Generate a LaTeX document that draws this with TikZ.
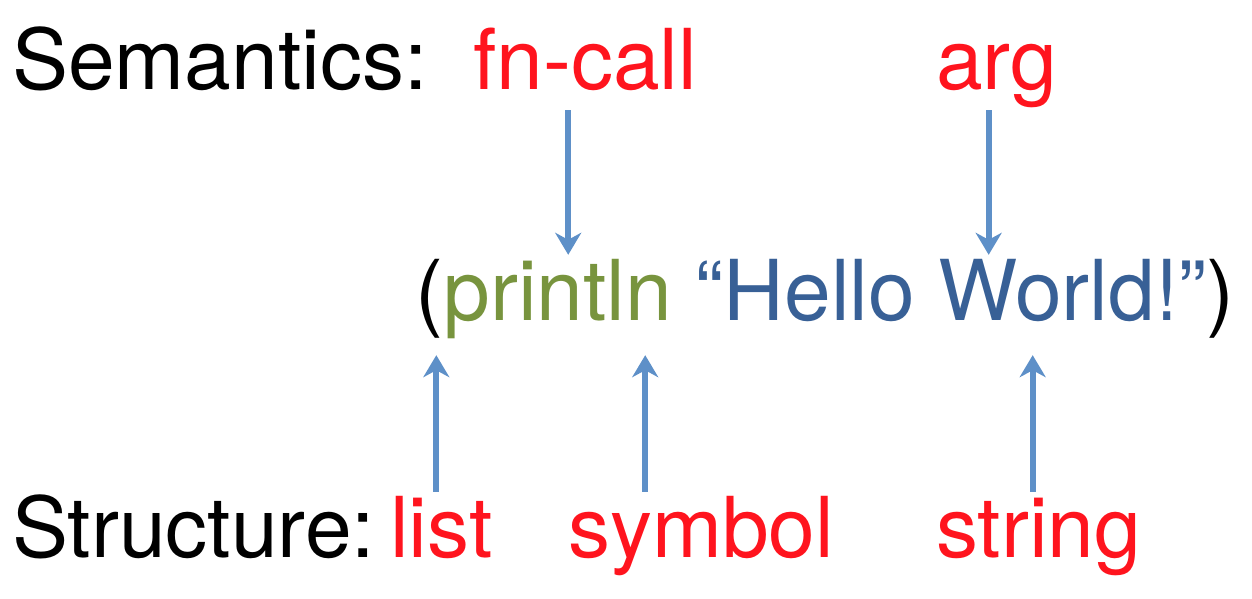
\documentclass[tikz,border=0pt]{standalone}
\usepackage{fontspec}
\setmainfont{TeX Gyre Heros}
\usepackage{xcolor}
\usetikzlibrary{arrows.meta}

\definecolor{semred}{RGB}{255,20,30}
\definecolor{codegreen}{RGB}{120,148,62}
\definecolor{codeblue}{RGB}{56,96,150}
\definecolor{arrowblue}{RGB}{94,144,200}
\newcommand\bigtxt{\fontsize{84}{100}\selectfont}

\begin{document}
\begin{tikzpicture}[x=1pt,y=1pt,
    txt/.style={inner sep=0pt,anchor=base west,font=\bigtxt},
    sem/.style={txt,text depth=20pt},
    code/.style={txt,text height=65pt,text depth=35pt},
    struc/.style={txt,text height=65pt},
    arr/.style={-{Stealth[length=22pt,width=26pt,inset=7pt]},line width=6pt,arrowblue}]
  \useasboundingbox (0,0) rectangle (1252,598);
  % top row
  \node[sem] (semantics) at (12,508) {Semantics:};
  \node[sem,text=semred] (fncall) at (473,508) {fn-call};
  \node[sem,text=semred] (arg) at (936,508) {arg};
  % the code
  \node[code] (lp) at (415,278) {(};
  \node[code,text=codegreen] (fn) at (lp.base east) {println};
  \node[code,text=codeblue,xshift=23pt] (str) at (fn.base east) {“Hello World!”};
  \node[code] (rp) at (str.base east) {)};
  % bottom row
  \node[struc] (structure) at (12,41) {Structure:};
  \node[struc,text=semred] (list) at (390,41) {list};
  \node[struc,text=semred] (symbol) at (568,41) {symbol};
  \node[struc,text=semred] (string) at (936,41) {string};
  % arrows
  \draw[arr] ([xshift=-17pt]fncall.south) -- ([xshift=-17pt]fncall.south |- fn.north);
  \draw[arr] ([xshift=-8pt]arg.south) -- ([xshift=-8pt]arg.south |- str.north);
  \draw[arr] ([xshift=-5pt]list.north) -- ([xshift=-5pt]list.north |- lp.south);
  \draw[arr] ([xshift=-56pt]symbol.north) -- ([xshift=-56pt]symbol.north |- fn.south);
  \draw[arr] ([xshift=-6pt]string.north) -- ([xshift=-6pt]string.north |- str.south);
\end{tikzpicture}
\end{document}
